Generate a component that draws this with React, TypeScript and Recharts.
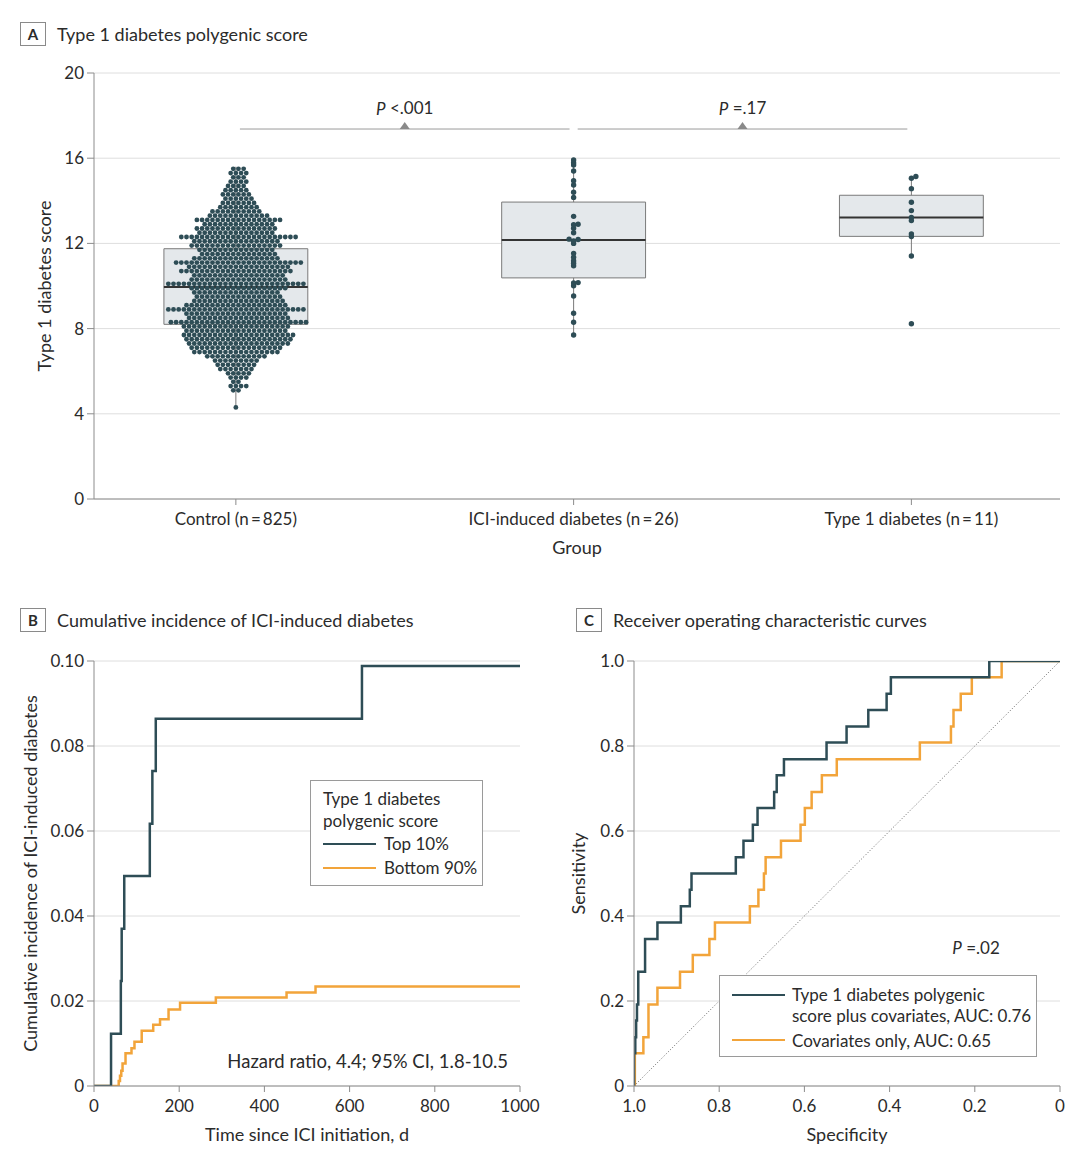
import React from "react";
import {
  CartesianGrid,
  ComposedChart,
  Legend,
  Line,
  LineChart,
  ReferenceArea,
  ReferenceDot,
  ReferenceLine,
  Scatter,
  XAxis,
  YAxis,
} from "recharts";

const FONT = "Lato, 'Open Sans', sans-serif";
const TEXT = "#2b2b2b";
const AXIS = "#8c8c8c";
const GRID = "#dedede";
const DARK = "#2e4d56";
const ORANGE = "#f2a43a";
const BOX_FILL = "#e4e8eb";
const BOX_STROKE = "#7a7a7a";

// ---- panel A: polygenic score by group
const groups = ["Control", "ICI-induced diabetes", "Type 1 diabetes"];
const groupN = [825, 26, 11];
const scoreTicks = [0, 4, 8, 12, 16, 20];

// control swarm, read as rows (score level -> dots in that row)
const controlLevels = [
  4.3, 5.1, 5.3, 5.5, 5.7, 5.9, 6.1, 6.3, 6.5, 6.7, 6.9, 7.1, 7.3, 7.5,
  7.7, 7.9, 8.1, 8.3, 8.5, 8.7, 8.9, 9.1, 9.3, 9.5, 9.7, 9.9, 10.1, 10.3,
  10.5, 10.7, 10.9, 11.1, 11.3, 11.5, 11.7, 11.9, 12.1, 12.3, 12.5, 12.7,
  12.9, 13.1, 13.3, 13.5, 13.7, 13.9, 14.1, 14.3, 14.5, 14.7, 14.9, 15.1,
  15.3, 15.5,
];
const controlCounts = [
  1, 2, 4, 2, 4, 5, 7, 8, 9, 12, 17, 18, 20, 21, 22, 20, 21, 27, 20, 20,
  27, 20, 18, 17, 17, 19, 27, 19, 18, 22, 20, 25, 17, 15, 15, 18, 17, 23,
  15, 16, 14, 17, 12, 10, 8, 7, 6, 6, 5, 4, 4, 3, 4, 3,
];

const iciScores = [
  15.92, 15.79, 15.68, 15.4, 14.94, 14.74, 14.4, 14.16, 13.27, 12.9, 12.88,
  12.71, 12.5, 12.2, 12.18, 12.12, 12.0, 11.53, 11.35, 11.19, 11.07, 10.95,
  10.16, 10.14, 10.01, 9.53, 8.72, 8.3, 7.7,
];
const t1dScores = [
  15.14, 15.06, 14.57, 13.93, 13.54, 13.22, 13.07, 12.44, 12.32, 11.41, 8.23,
];

const boxQ1 = [8.2, 10.38, 12.33];
const boxMedian = [9.95, 12.16, 13.22];
const boxQ3 = [11.75, 13.94, 14.26];
const whiskerLow = [4.3, 7.7, 11.41];
const whiskerHigh = [15.6, 15.92, 15.14];

// ---- panel B: cumulative incidence
const top10Days = [0, 40, 63, 65, 71, 131, 137, 145, 629, 1000];
const top10Incidence = [
  0, 0.0123, 0.0247, 0.037, 0.0494, 0.0617, 0.0741, 0.0864, 0.0988, 0.0988,
];
const bottom90Days = [
  0, 55, 58, 61, 64, 67, 74, 88, 95, 112, 139, 155, 175, 202, 286, 452, 520,
  1000,
];
const bottom90Incidence = [
  0, 0, 0.0012, 0.0024, 0.0036, 0.0053, 0.0077, 0.0089, 0.0104, 0.013,
  0.0144, 0.0157, 0.018, 0.0196, 0.0208, 0.022, 0.0234, 0.0234,
];
const dayTicks = [0, 200, 400, 600, 800, 1000];
const incidenceTicks = [0, 0.02, 0.04, 0.06, 0.08, 0.1];

// ---- panel C: ROC
const prsSpecificity = [
  1.0, 1.0, 0.997, 0.995, 0.993, 0.99, 0.974, 0.945, 0.89, 0.869, 0.865,
  0.761, 0.743, 0.721, 0.71, 0.671, 0.665, 0.648, 0.548, 0.501, 0.45, 0.407,
  0.397, 0.166, 0,
];
const prsSensitivity = [
  0, 0.077, 0.115, 0.154, 0.192, 0.269, 0.346, 0.385, 0.423, 0.462, 0.5,
  0.538, 0.577, 0.615, 0.654, 0.692, 0.731, 0.769, 0.808, 0.846, 0.885,
  0.923, 0.962, 1.0, 1.0,
];
const covSpecificity = [
  1.0, 0.998, 0.978, 0.966, 0.945, 0.892, 0.862, 0.823, 0.81, 0.728, 0.708,
  0.695, 0.691, 0.655, 0.609, 0.599, 0.583, 0.559, 0.524, 0.329, 0.256, 0.25,
  0.233, 0.207, 0.137, 0,
];
const covSensitivity = [
  0, 0.077, 0.115, 0.192, 0.231, 0.269, 0.308, 0.346, 0.385, 0.423, 0.462,
  0.5, 0.538, 0.577, 0.615, 0.654, 0.692, 0.731, 0.769, 0.808, 0.846, 0.885,
  0.923, 0.962, 1.0, 1.0,
];
const rocTicks = [0, 0.2, 0.4, 0.6, 0.8, 1];

// swarm layout helpers (px per unit of the panel A scales)
const Y_PX = 21.3;
const X_PX = 338;
const ROW_GAP = 5.2;
const SIDE_GAP = 4.5;

// rows of dots, every other row shifted half a step so they nest
function rowSwarm(levels: number[], counts: number[], center: number) {
  const pts: { x: number; y: number }[] = [];
  levels.forEach((lv, i) => {
    const n = counts[i];
    const shift = i % 2 ? ROW_GAP / 2 : 0;
    const start = -Math.floor((n - 1) / 2) - (shift && n % 2 === 0 ? 1 : 0);
    for (let k = 0; k < n; k++) {
      const off = shift + (start + k) * ROW_GAP;
      pts.push({ x: center + off / X_PX, y: lv });
    }
  });
  return pts;
}

function beeswarm(values: number[], center: number) {
  const placed: { px: number; py: number }[] = [];
  return [...values]
    .sort((a, b) => a - b)
    .map((v) => {
      const py = v * Y_PX;
      const near = placed.filter((p) => Math.abs(p.py - py) < 2.2);
      let px = 0;
      for (let k = 0; k < 20; k++) {
        const cand =
          k === 0 ? 0 : (k % 2 ? 1 : -1) * Math.ceil(k / 2) * SIDE_GAP;
        if (near.every((p) => Math.abs(p.px - cand) >= SIDE_GAP)) {
          px = cand;
          break;
        }
      }
      placed.push({ px, py });
      return { x: center + px / X_PX, y: v };
    });
}

const controlPoints = rowSwarm(controlLevels, controlCounts, 0);
const iciPoints = beeswarm(iciScores, 1);
const t1dPoints = beeswarm(t1dScores, 2);

const top10 = top10Days.map((d, i) => ({ day: d, inc: top10Incidence[i] }));
const bottom90 = bottom90Days.map((d, i) => ({
  day: d,
  inc: bottom90Incidence[i],
}));
const prsRoc = prsSpecificity.map((s, i) => ({
  spec: s,
  sens: prsSensitivity[i],
}));
const covRoc = covSpecificity.map((s, i) => ({
  spec: s,
  sens: covSensitivity[i],
}));

const BOX_HALF = 0.213;

const dotShape = (p: any) => (
  <circle cx={p.cx} cy={p.cy} r={2.7} fill={DARK} />
);
const smallDotShape = (p: any) => (
  <circle cx={p.cx} cy={p.cy} r={2.4} fill={DARK} />
);

const triangle = (p: any) => (
  <path
    d={`M${p.cx - 5},${p.cy} L${p.cx + 5},${p.cy} L${p.cx},${p.cy - 7} Z`}
    fill="#8a8a8a"
  />
);

function pText(rest: string, anchor = "middle", size = 17) {
  return (p: any) => (
    <text
      x={p.cx}
      y={p.cy}
      textAnchor={anchor}
      dominantBaseline="central"
      fill={TEXT}
      fontSize={size}
    >
      <tspan fontStyle="italic">P</tspan>
      {rest}
    </text>
  );
}

function PanelTitle({
  letter,
  text,
  left,
  top,
}: {
  letter: string;
  text: string;
  left: number;
  top: number;
}) {
  return (
    <div
      style={{
        position: "absolute",
        left,
        top,
        display: "flex",
        alignItems: "center",
        height: 24,
      }}
    >
      <div
        style={{
          width: 26,
          height: 24,
          boxSizing: "border-box",
          border: "1.5px solid #8a8a8a",
          display: "flex",
          alignItems: "center",
          justifyContent: "center",
          fontWeight: 700,
          fontSize: 15,
          color: TEXT,
        }}
      >
        {letter}
      </div>
      <div style={{ marginLeft: 11, fontSize: 18, color: TEXT }}>{text}</div>
    </div>
  );
}

function SampleRow({
  color,
  text,
  height,
  gap,
}: {
  color: string;
  text: string;
  height: number;
  gap: number;
}) {
  return (
    <div style={{ display: "flex", alignItems: "center", height }}>
      <div
        style={{
          width: 53,
          height: 0,
          borderTop: `2.5px solid ${color}`,
          marginRight: gap,
          flex: "none",
        }}
      />
      <span>{text}</span>
    </div>
  );
}

const legendB = () => (
  <div
    style={{
      width: 173,
      height: 106,
      boxSizing: "border-box",
      border: "1px solid #9a9a9a",
      background: "#fff",
      padding: "7px 0 0 12px",
      fontSize: 17,
      color: TEXT,
      lineHeight: "22px",
    }}
  >
    <div>Type 1 diabetes</div>
    <div>polygenic score</div>
    <SampleRow color={DARK} text="Top 10%" height={24} gap={8} />
    <SampleRow color={ORANGE} text="Bottom 90%" height={24} gap={8} />
  </div>
);

const legendC = () => (
  <div
    style={{
      width: 318,
      height: 82,
      boxSizing: "border-box",
      border: "1px solid #9a9a9a",
      background: "#fff",
      padding: "8px 0 0 12px",
      fontSize: 17,
      color: TEXT,
      lineHeight: "21px",
    }}
  >
    <div style={{ display: "flex" }}>
      <div
        style={{
          width: 53,
          height: 0,
          borderTop: `2.5px solid ${DARK}`,
          marginRight: 7,
          marginTop: 10,
          flex: "none",
        }}
      />
      <div>
        <div>Type 1 diabetes polygenic</div>
        <div>score plus covariates, AUC: 0.76</div>
      </div>
    </div>
    <div style={{ marginTop: 2 }}>
      <SampleRow
        color={ORANGE}
        text="Covariates only, AUC: 0.65"
        height={24}
        gap={7}
      />
    </div>
  </div>
);

const tickStyle = { fill: TEXT, fontSize: 17 };

export default function App() {
  return (
    <div
      style={{
        position: "absolute",
        left: 0,
        top: 0,
        width: 1080,
        height: 1161,
        background: "#fff",
        fontFamily: FONT,
        color: TEXT,
      }}
    >
      <PanelTitle
        letter="A"
        text="Type 1 diabetes polygenic score"
        left={20}
        top={22}
      />
      <PanelTitle
        letter="B"
        text="Cumulative incidence of ICI-induced diabetes"
        left={20}
        top={608}
      />
      <PanelTitle
        letter="C"
        text="Receiver operating characteristic curves"
        left={576}
        top={608}
      />

      <div style={{ position: "absolute", left: 0, top: 0 }}>
        <ComposedChart
          width={1080}
          height={570}
          margin={{ top: 73, right: 20, bottom: 0, left: 0 }}
        >
          <CartesianGrid vertical={false} stroke={GRID} />
          <XAxis
            type="number"
            dataKey="x"
            domain={[-0.42, 2.44]}
            allowDataOverflow
            ticks={[0, 1, 2]}
            tickFormatter={(v) =>
              `${groups[v]} (n\u2009=\u2009${groupN[v]})`
            }
            height={71}
            stroke={AXIS}
            tickSize={6}
            tickMargin={8}
            tick={tickStyle}
            label={{
              value: "Group",
              position: "insideBottom",
              offset: 16,
              fill: TEXT,
              fontSize: 18,
            }}
          />
          <YAxis
            type="number"
            dataKey="y"
            domain={[0, 20]}
            allowDataOverflow
            ticks={scoreTicks}
            width={94}
            stroke={AXIS}
            tickSize={7}
            tickMargin={3}
            tick={tickStyle}
            label={{
              value: "Type 1 diabetes score",
              angle: -90,
              position: "insideLeft",
              offset: 45,
              fill: TEXT,
              fontSize: 18,
              style: { textAnchor: "middle" },
            }}
          />

          {groups.map((g, i) => (
            <ReferenceLine
              key={`wl-${g}`}
              segment={[
                { x: i, y: whiskerLow[i] },
                { x: i, y: boxQ1[i] },
              ]}
              stroke={BOX_STROKE}
              strokeWidth={1}
            />
          ))}
          {groups.map((g, i) => (
            <ReferenceLine
              key={`wh-${g}`}
              segment={[
                { x: i, y: boxQ3[i] },
                { x: i, y: whiskerHigh[i] },
              ]}
              stroke={BOX_STROKE}
              strokeWidth={1}
            />
          ))}
          {groups.map((g, i) => (
            <ReferenceArea
              key={`box-${g}`}
              x1={i - BOX_HALF}
              x2={i + BOX_HALF}
              y1={boxQ1[i]}
              y2={boxQ3[i]}
              fill={BOX_FILL}
              fillOpacity={1}
              stroke={BOX_STROKE}
              strokeWidth={1}
            />
          ))}

          <Scatter
            data={controlPoints}
            shape={smallDotShape}
            isAnimationActive={false}
          />
          <Scatter data={iciPoints} shape={dotShape} isAnimationActive={false} />
          <Scatter data={t1dPoints} shape={dotShape} isAnimationActive={false} />

          {groups.map((g, i) => (
            <ReferenceLine
              key={`med-${g}`}
              segment={[
                { x: i - BOX_HALF, y: boxMedian[i] },
                { x: i + BOX_HALF, y: boxMedian[i] },
              ]}
              stroke="#333"
              strokeWidth={2}
            />
          ))}

          <ReferenceLine
            segment={[
              { x: 0.012, y: 17.37 },
              { x: 0.988, y: 17.37 },
            ]}
            stroke="#9a9a9a"
          />
          <ReferenceLine
            segment={[
              { x: 1.012, y: 17.37 },
              { x: 1.988, y: 17.37 },
            ]}
            stroke="#9a9a9a"
          />
          <ReferenceDot x={0.5} y={17.37} r={0} shape={triangle} />
          <ReferenceDot x={1.5} y={17.37} r={0} shape={triangle} />
          <ReferenceDot x={0.5} y={18.36} r={0} shape={pText(" <.001")} />
          <ReferenceDot x={1.5} y={18.36} r={0} shape={pText(" =.17")} />
        </ComposedChart>
      </div>

      <div style={{ position: "absolute", left: 0, top: 590 }}>
        <LineChart
          width={540}
          height={571}
          margin={{ top: 71, right: 20, bottom: 0, left: 0 }}
        >
          <CartesianGrid vertical={false} stroke={GRID} />
          <XAxis
            type="number"
            dataKey="day"
            domain={[0, 1000]}
            allowDataOverflow
            ticks={dayTicks}
            height={75}
            stroke={AXIS}
            tickSize={6}
            tickMargin={8}
            tick={tickStyle}
            label={{
              value: "Time since ICI initiation, d",
              position: "insideBottom",
              offset: 20,
              fill: TEXT,
              fontSize: 18,
            }}
          />
          <YAxis
            type="number"
            domain={[0, 0.1]}
            allowDataOverflow
            ticks={incidenceTicks}
            tickFormatter={(v) => (v === 0 ? "0" : v.toFixed(2))}
            width={94}
            stroke={AXIS}
            tickSize={7}
            tickMargin={3}
            tick={tickStyle}
            label={{
              value: "Cumulative incidence of ICI-induced diabetes",
              angle: -90,
              position: "insideLeft",
              offset: 31,
              fill: TEXT,
              fontSize: 18,
              style: { textAnchor: "middle" },
            }}
          />
          <Line
            data={bottom90}
            dataKey="inc"
            type="stepAfter"
            stroke={ORANGE}
            strokeWidth={2.5}
            dot={false}
            isAnimationActive={false}
          />
          <Line
            data={top10}
            dataKey="inc"
            type="stepAfter"
            stroke={DARK}
            strokeWidth={2.5}
            dot={false}
            isAnimationActive={false}
          />
          <ReferenceDot
            x={972}
            y={0.0059}
            r={0}
            shape={(p: any) => (
              <text
                x={p.cx}
                y={p.cy}
                textAnchor="end"
                dominantBaseline="central"
                fill={TEXT}
                fontSize={18.5}
              >
                Hazard ratio, 4.4; 95% CI, 1.8-10.5
              </text>
            )}
          />
          <Legend
            layout="vertical"
            align="center"
            verticalAlign="middle"
            wrapperStyle={{ left: 310, top: 190, width: 173, height: 106 }}
            content={legendB}
          />
        </LineChart>
      </div>

      <div style={{ position: "absolute", left: 540, top: 590 }}>
        <LineChart
          width={540}
          height={571}
          margin={{ top: 71, right: 20, bottom: 0, left: 0 }}
        >
          <CartesianGrid vertical={false} stroke={GRID} />
          <XAxis
            type="number"
            dataKey="spec"
            domain={[0, 1]}
            reversed
            allowDataOverflow
            ticks={rocTicks}
            tickFormatter={(v) => (v === 0 ? "0" : v.toFixed(1))}
            height={75}
            stroke={AXIS}
            tickSize={6}
            tickMargin={8}
            tick={tickStyle}
            label={{
              value: "Specificity",
              position: "insideBottom",
              offset: 20,
              fill: TEXT,
              fontSize: 18,
            }}
          />
          <YAxis
            type="number"
            domain={[0, 1]}
            allowDataOverflow
            ticks={rocTicks}
            tickFormatter={(v) => (v === 0 ? "0" : v.toFixed(1))}
            width={94}
            stroke={AXIS}
            tickSize={7}
            tickMargin={3}
            tick={tickStyle}
            label={{
              value: "Sensitivity",
              angle: -90,
              position: "insideLeft",
              offset: 39,
              fill: TEXT,
              fontSize: 18,
              style: { textAnchor: "middle" },
            }}
          />
          <ReferenceLine
            segment={[
              { x: 1, y: 0 },
              { x: 0, y: 1 },
            ]}
            stroke="#666"
            strokeWidth={1}
            strokeDasharray="1 2"
          />
          <Line
            data={covRoc}
            dataKey="sens"
            type="stepAfter"
            stroke={ORANGE}
            strokeWidth={2.5}
            dot={false}
            isAnimationActive={false}
          />
          <Line
            data={prsRoc}
            dataKey="sens"
            type="stepAfter"
            stroke={DARK}
            strokeWidth={2.5}
            dot={false}
            isAnimationActive={false}
          />
          <ReferenceDot x={0.197} y={0.327} r={0} shape={pText(" =.02")} />
          <Legend
            layout="vertical"
            align="center"
            verticalAlign="middle"
            wrapperStyle={{ left: 179, top: 385, width: 318, height: 82 }}
            content={legendC}
          />
        </LineChart>
      </div>
    </div>
  );
}
